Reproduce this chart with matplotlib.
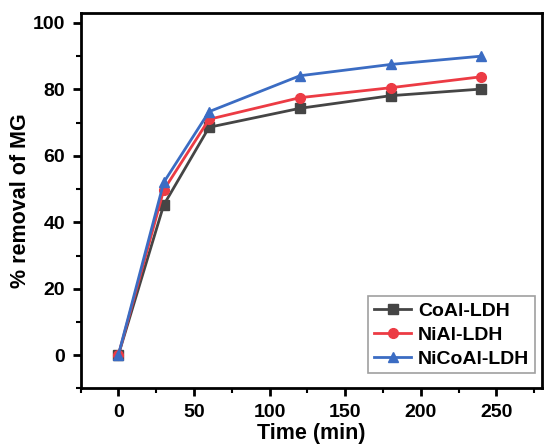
import matplotlib.pyplot as plt
from matplotlib.ticker import MultipleLocator

time_min = [0, 30, 60, 120, 180, 240]
coal_ldh = [0, 45.2, 68.6, 74.3, 78.1, 80.1]
nial_ldh = [0, 49.7, 71.0, 77.5, 80.5, 83.8]
nicoal_ldh = [0, 52.0, 73.3, 84.1, 87.5, 90.0]

plt.rcParams['font.family'] = ['Liberation Sans', 'DejaVu Sans']
plt.rcParams['font.weight'] = 'bold'

fig = plt.figure(figsize=(5.44, 4.47), dpi=100)
ax = fig.add_axes([0.148, 0.131, 0.848, 0.840])

ax.plot(time_min, coal_ldh, color='#454545', marker='s', markersize=6.5,
        linewidth=2, label='CoAl-LDH')
ax.plot(time_min, nial_ldh, color='#ec3b44', marker='o', markersize=7,
        linewidth=2, label='NiAl-LDH')
ax.plot(time_min, nicoal_ldh, color='#3b6cc3', marker='^', markersize=7.5,
        linewidth=2, label='NiCoAl-LDH')

ax.set_xlim(-25, 280)
ax.set_ylim(-10, 103)
ax.xaxis.set_major_locator(MultipleLocator(50))
ax.xaxis.set_minor_locator(MultipleLocator(25))
ax.yaxis.set_major_locator(MultipleLocator(20))
ax.yaxis.set_minor_locator(MultipleLocator(10))

for s in ax.spines.values():
    s.set_linewidth(2)
ax.tick_params(which='major', direction='out', length=6, width=2,
               labelsize=14, pad=5)
ax.tick_params(which='minor', direction='out', length=3.5, width=1.5)

ax.set_xlabel('Time (min)', fontsize=15.5, fontweight='bold', labelpad=2)
ax.set_ylabel('% removal of MG', fontsize=15.5, fontweight='bold', labelpad=1)

leg = ax.legend(loc='lower right', bbox_to_anchor=(0.985, 0.04),
                fontsize=14, frameon=True, fancybox=False,
                edgecolor='#888888', handlelength=1.9, borderpad=0.3,
                labelspacing=0.32, handletextpad=0.35, borderaxespad=0)
leg.get_frame().set_linewidth(1.2)

fig.savefig('out.png', dpi=100)
